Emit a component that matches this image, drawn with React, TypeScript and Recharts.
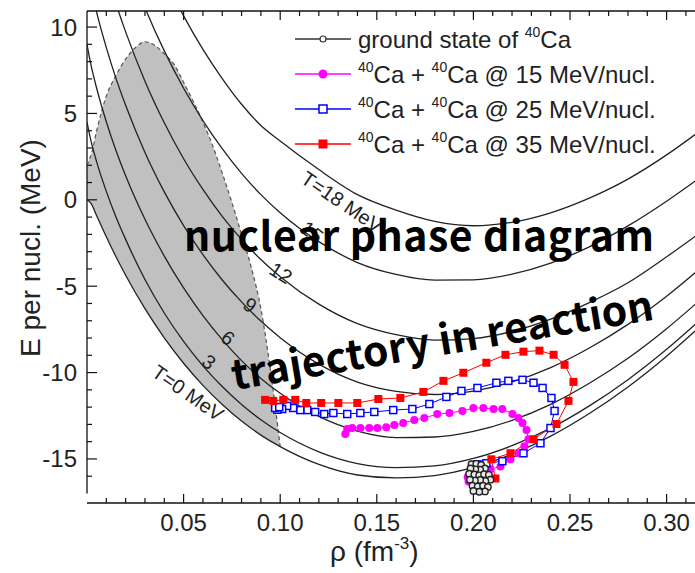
import React from "react";
import { Area, ComposedChart, Line, ReferenceLine, XAxis, YAxis } from "recharts";

// density grid of the isotherms, fm^-3
const RHO = [0, 0.002, 0.005, 0.01, 0.015, 0.02, 0.03, 0.04, 0.05, 0.06, 0.07, 0.08, 0.09, 0.1, 0.12, 0.14, 0.16, 0.18, 0.2, 0.22, 0.24, 0.26, 0.28, 0.3, 0.315];

// E per nucleon (MeV) of each isotherm on RHO
const T0 = [0, -0.19, -0.92, -2.14, -3.3, -4.37, -6.3, -7.99, -9.46, -10.74, -11.85, -12.81, -13.62, -14.29, -15.32, -15.93, -16.1, -15.96, -15.49, -14.72, -13.68, -12.37, -10.83, -9.05, -7.57];
const T3 = [4.5, 3.44, 2.2, 0.49, -0.99, -2.29, -4.61, -6.55, -8.2, -9.61, -10.81, -11.85, -12.73, -13.47, -14.59, -15.27, -15.5, -15.4, -14.97, -14.23, -13.22, -11.93, -10.41, -8.65, -7.19];
const T6 = [9.0, 7.84, 6.46, 4.52, 2.85, 1.39, -1.13, -3.26, -5.1, -6.7, -8.09, -9.31, -10.34, -11.2, -12.54, -13.39, -13.76, -13.73, -13.41, -12.77, -11.84, -10.62, -9.17, -7.46, -6.03];
const T9 = [13.5, 12.3, 10.85, 8.81, 7.03, 5.47, 2.74, 0.46, -1.49, -3.17, -4.64, -5.91, -7.02, -7.98, -9.51, -10.55, -11.09, -11.27, -11.07, -10.54, -9.71, -8.58, -7.21, -5.58, -4.2];
const T12 = [18, 16.78, 15.29, 13.18, 11.35, 9.72, 6.87, 4.46, 2.38, 0.6, -0.96, -2.29, -3.46, -4.45, -6.04, -7.17, -7.81, -8.12, -8.03, -7.62, -6.91, -5.95, -4.8, -3.3, -2.1];
const T15 = [22.5, 21.26, 19.75, 17.6, 15.72, 14.05, 11.12, 8.62, 6.46, 4.59, 2.96, 1.53, 0.3, -0.75, -2.42, -3.63, -4.32, -4.65, -4.63, -4.3, -3.66, -2.72, -1.51, -0.08, 1.1];
const T18 = [27, 25.75, 24.22, 22.04, 20.13, 18.42, 15.43, 12.87, 10.65, 8.71, 7.02, 5.53, 4.3, 3.4, 1.75, 0.3, -0.6, -1.25, -1.5, -1.3, -0.75, 0.1, 1.2, 2.6, 3.8];

// shaded region: lower edge is T=0, upper edge is the dashed boundary
const GRAY_RHO = [0, 0.0025, 0.005, 0.01, 0.015, 0.02, 0.025, 0.03, 0.035, 0.04, 0.045, 0.05, 0.055, 0.06, 0.065, 0.07, 0.075, 0.08, 0.085, 0.09, 0.095, 0.1];
const GRAY_LOW = [0, -0.3, -0.92, -2.14, -3.3, -4.37, -5.36, -6.3, -7.17, -7.99, -8.75, -9.46, -10.12, -10.74, -11.31, -11.85, -12.35, -12.81, -13.23, -13.62, -13.97, -14.29];
const SPINODAL = [2.0, 2.75, 4.0, 6.0, 7.2, 8.15, 8.8, 9.15, 8.95, 8.45, 7.85, 6.8, 5.7, 4.5, 3.15, 1.55, -0.15, -2.0, -3.9, -6.3, -9.9, -14.29];

// ground state of 40Ca
const GS_RHO = [0.199, 0.2015, 0.204, 0.206, 0.2035, 0.201, 0.1985, 0.1978, 0.2005, 0.203, 0.2055, 0.208, 0.2088, 0.2062, 0.2035, 0.2008, 0.1982, 0.1995, 0.2022, 0.205, 0.2075, 0.206, 0.203, 0.2];
const GS_E = [-15.3, -15.28, -15.35, -15.55, -15.62, -15.6, -15.55, -15.85, -15.9, -15.95, -15.88, -15.92, -16.2, -16.28, -16.22, -16.25, -16.2, -16.55, -16.6, -16.55, -16.62, -16.88, -16.9, -16.85];

// 40Ca + 40Ca @ 15 MeV/nucl.
const M_RHO = [0.1975, 0.197, 0.1984, 0.2052, 0.2088, 0.214, 0.2192, 0.2233, 0.2264, 0.2285, 0.2275, 0.2254, 0.2233, 0.2202, 0.215, 0.2104, 0.2052, 0.2, 0.1943, 0.1876, 0.1813, 0.1746, 0.1694, 0.1637, 0.1591, 0.1549, 0.1503, 0.1461, 0.1415, 0.1373, 0.1347, 0.1337];
const M_E = [-16.3, -16.05, -16.01, -15.78, -15.6, -15.43, -15.02, -14.67, -14.26, -13.86, -13.33, -12.92, -12.63, -12.4, -12.11, -12.11, -12.05, -12.05, -12.22, -12.34, -12.4, -12.63, -12.75, -12.92, -13.04, -13.16, -13.21, -13.21, -13.21, -13.21, -13.27, -13.56];

// 40Ca + 40Ca @ 25 MeV/nucl.
const B_RHO = [0.203, 0.2021, 0.2067, 0.215, 0.2259, 0.2347, 0.2399, 0.242, 0.2404, 0.2358, 0.2311, 0.2254, 0.2181, 0.2119, 0.2021, 0.1938, 0.186, 0.1772, 0.1684, 0.1585, 0.1487, 0.1415, 0.1347, 0.1275, 0.1228, 0.1181, 0.114, 0.1104, 0.1067, 0.1036, 0.101, 0.0985, 0.0974, 0.0995];
const B_E = [-15.6, -15.31, -15.25, -15.13, -14.67, -14.09, -13.21, -12.22, -11.47, -10.89, -10.59, -10.42, -10.48, -10.59, -10.89, -11.06, -11.41, -11.82, -12.11, -12.17, -12.28, -12.34, -12.4, -12.34, -12.4, -12.28, -12.17, -12.17, -12.05, -11.93, -12.11, -12.15, -12.05, -12.0];

// 40Ca + 40Ca @ 35 MeV/nucl.
const R_RHO = [0.2114, 0.2093, 0.2192, 0.2311, 0.243, 0.2492, 0.2518, 0.2472, 0.2415, 0.2342, 0.2259, 0.2166, 0.2067, 0.1948, 0.1845, 0.1741, 0.1622, 0.1508, 0.1399, 0.1301, 0.1212, 0.1135, 0.1078, 0.1016, 0.0964, 0.0922];
const R_E = [-16.13, -15.02, -14.67, -13.86, -12.98, -11.64, -10.54, -9.55, -8.97, -8.73, -8.79, -8.97, -9.43, -10.01, -10.48, -11.12, -11.47, -11.53, -11.76, -11.76, -11.76, -11.76, -11.58, -11.58, -11.64, -11.58];

const X_TICKS = [0.01, 0.02, 0.03, 0.04, 0.05, 0.06, 0.07, 0.08, 0.09, 0.1, 0.11, 0.12, 0.13, 0.14, 0.15, 0.16, 0.17, 0.18, 0.19, 0.2, 0.21, 0.22, 0.23, 0.24, 0.25, 0.26, 0.27, 0.28, 0.29, 0.3, 0.31];
const Y_TICKS = [-16, -15, -14, -13, -12, -11, -10, -9, -8, -7, -6, -5, -4, -3, -2, -1, 0, 1, 2, 3, 4, 5, 6, 7, 8, 9, 10];

const X_DOMAIN = [0, 0.3147];
const Y_DOMAIN = [-17.55, 10.93];
const SANS = '"Liberation Sans", Arial, sans-serif';
const CJK = '"Noto Sans CJK SC", sans-serif';

const toPoints = (xs: number[], ys: number[]) => xs.map((r, i) => ({ rho: r, E: ys[i] }));
const isMajorX = (v: number) => Math.abs(v * 20 - Math.round(v * 20)) < 1e-6;

const isotherms = [T0, T3, T6, T9, T12, T15, T18].map((ys) => toPoints(RHO, ys));
const grayData = GRAY_RHO.map((r, i) => ({ rho: r, range: [GRAY_LOW[i], SPINODAL[i]] }));
const spinodalData = toPoints(GRAY_RHO, SPINODAL);

function BottomTick({ x, y, payload }: any) {
  const major = isMajorX(payload.value);
  return (
    <g>
      <line x1={x} x2={x} y1={y} y2={y - (major ? 9 : 5)} stroke="#111" strokeWidth={1.2} />
      {major && (
        <text x={x} y={y + 28} textAnchor="middle" fontSize={24} fill="#222" fontFamily={SANS}>
          {payload.value.toFixed(2)}
        </text>
      )}
    </g>
  );
}

function TopTick({ x, y, payload }: any) {
  const major = isMajorX(payload.value);
  return <line x1={x} x2={x} y1={y} y2={y + (major ? 9 : 5)} stroke="#111" strokeWidth={1.2} />;
}

function LeftTick({ x, y, payload }: any) {
  const major = payload.value % 5 === 0;
  return (
    <g>
      <line x1={x} x2={x + (major ? 10 : 5)} y1={y} y2={y} stroke="#111" strokeWidth={1.2} />
      {major && (
        <text x={x - 10} y={y + 8.5} textAnchor="end" fontSize={24} fill="#222" fontFamily={SANS}>
          {payload.value}
        </text>
      )}
    </g>
  );
}

const filledSquare = (p: any) =>
  p.cx == null ? <g key={p.index} /> : <rect key={p.index} x={p.cx - 4} y={p.cy - 4} width={8} height={8} fill="#ff0000" />;
const openSquare = (p: any) =>
  p.cx == null ? <g key={p.index} /> : <rect key={p.index} x={p.cx - 3.5} y={p.cy - 3.5} width={7} height={7} fill="#fff" stroke="#0000ff" strokeWidth={1.5} />;
const filledCircle = (p: any) =>
  p.cx == null ? <g key={p.index} /> : <circle key={p.index} cx={p.cx} cy={p.cy} r={4} fill="#ff00ff" />;
const gsCircle = (p: any) =>
  p.cx == null ? <g key={p.index} /> : <circle key={p.index} cx={p.cx} cy={p.cy} r={3.2} fill="#e8e8e8" stroke="#222" strokeWidth={1.4} />;

const legendRows = [
  { y: 39, color: "#333", kind: "gs", text: null },
  { y: 74, color: "#ff00ff", kind: "circle", text: "15" },
  { y: 109, color: "#0000ff", kind: "open", text: "25" },
  { y: 144, color: "#ff0000", kind: "square", text: "35" },
];

function Overlay() {
  return (
    <svg width={695} height={573} style={{ position: "absolute", left: 0, top: 0, pointerEvents: "none" }}>
      <text x={40} y={248} transform="rotate(-90 40 248)" textAnchor="middle" fontSize={28} fill="#222" fontFamily={SANS}>
        E per nucl. (MeV)
      </text>
      <text x={330} y={561} fontSize={28} fill="#222" fontFamily={SANS}>
        ρ (fm<tspan fontSize={17} dy={-12}>-3</tspan>
        <tspan dy={12}>)</tspan>
      </text>

      {legendRows.map((row) => (
        <g key={row.y}>
          <line x1={295} x2={351} y1={row.y} y2={row.y} stroke={row.color} strokeWidth={1.3} />
          {row.kind === "gs" && <circle cx={323} cy={row.y} r={3} fill="#fff" stroke="#333" strokeWidth={1.2} />}
          {row.kind === "circle" && <circle cx={323} cy={row.y} r={4.5} fill={row.color} />}
          {row.kind === "open" && <rect x={319} y={row.y - 4} width={8} height={8} fill="#fff" stroke={row.color} strokeWidth={1.5} />}
          {row.kind === "square" && <rect x={318.5} y={row.y - 4.5} width={9} height={9} fill={row.color} />}
          {row.text == null ? (
            <text x={358} y={row.y + 9} fontSize={24} fill="#222" fontFamily={SANS}>
              ground state of <tspan fontSize={14} dy={-11}>40</tspan>
              <tspan dy={11}>Ca</tspan>
            </text>
          ) : (
            <text x={358} y={row.y + 9} fontSize={24} fill="#222" fontFamily={SANS}>
              <tspan fontSize={14} dy={-11}>40</tspan>
              <tspan dy={11}>Ca + </tspan>
              <tspan fontSize={14} dy={-11}>40</tspan>
              <tspan dy={11}>{`Ca @ ${row.text} MeV/nucl.`}</tspan>
            </text>
          )}
        </g>
      ))}

      {[
        { t: "T=18 MeV", x: 342, y: 202, a: 34 },
        { t: "15", x: 312, y: 232, a: 38 },
        { t: "12", x: 281, y: 273, a: 32 },
        { t: "9", x: 250, y: 305, a: 35 },
        { t: "6", x: 228, y: 338, a: 38 },
        { t: "3", x: 209, y: 362, a: 38 },
        { t: "T=0 MeV", x: 188, y: 393, a: 35 },
      ].map((l) => (
        <text
          key={l.t}
          x={l.x}
          y={l.y}
          textAnchor="middle"
          dominantBaseline="central"
          transform={`rotate(${l.a} ${l.x} ${l.y})`}
          fontSize={20}
          fill="#222"
          fontFamily={SANS}
        >
          {l.t}
        </text>
      ))}

      <text x={184} y={251} fontSize={41} fontWeight="bold" fill="#000" fontFamily={CJK} textLength={470} lengthAdjust="spacing">
        nuclear phase diagram
      </text>
      <text
        x={234}
        y={390}
        transform="rotate(-9.5 234 390)"
        fontSize={41}
        fontWeight="bold"
        fill="#000"
        fontFamily={CJK}
        textLength={427}
        lengthAdjust="spacing"
      >
        trajectory in reaction
      </text>
    </svg>
  );
}

export default function App() {
  return (
    <div style={{ position: "absolute", left: 0, top: 0, width: 695, height: 573, background: "#fff" }}>
      <ComposedChart width={695} height={573} margin={{ top: 0, right: 0, bottom: 0, left: 0 }}>
        <XAxis
          dataKey="rho"
          type="number"
          domain={X_DOMAIN}
          allowDataOverflow
          ticks={X_TICKS}
          interval={0}
          height={70}
          tickSize={0}
          tickMargin={0}
          tick={<BottomTick />}
          axisLine={{ stroke: "#111", strokeWidth: 1.3 }}
          tickLine={false}
        />
        <XAxis
          xAxisId="top"
          orientation="top"
          dataKey="rho"
          type="number"
          domain={X_DOMAIN}
          allowDataOverflow
          ticks={X_TICKS}
          interval={0}
          height={11}
          tickSize={0}
          tickMargin={0}
          tick={<TopTick />}
          axisLine={{ stroke: "#111", strokeWidth: 1.3 }}
          tickLine={false}
        />
        <YAxis
          type="number"
          domain={Y_DOMAIN}
          allowDataOverflow
          ticks={Y_TICKS}
          interval={0}
          width={87}
          tickSize={0}
          tickMargin={0}
          tick={<LeftTick />}
          axisLine={false}
          tickLine={false}
        />
        <ReferenceLine
          segment={[{ x: 0, y: -17 }, { x: 0, y: 10.93 }]}
          stroke="#111"
          strokeWidth={1.3}
          ifOverflow="visible"
        />

        <Area
          data={grayData}
          dataKey="range"
          type="monotone"
          fill="#c0c0c0"
          fillOpacity={1}
          stroke="none"
          isAnimationActive={false}
        />
        <Line
          data={spinodalData}
          dataKey="E"
          type="monotone"
          stroke="#555"
          strokeWidth={1.2}
          strokeDasharray="4 3"
          dot={false}
          isAnimationActive={false}
        />
        {isotherms.map((d, i) => (
          <Line
            key={i}
            data={d}
            dataKey="E"
            type="monotone"
            stroke="#222"
            strokeWidth={1.3}
            dot={false}
            isAnimationActive={false}
          />
        ))}

        <Line data={toPoints(M_RHO, M_E)} dataKey="E" type="linear" stroke="#ff00ff" strokeWidth={1} dot={filledCircle} isAnimationActive={false} />
        <Line data={toPoints(B_RHO, B_E)} dataKey="E" type="linear" stroke="#0000ff" strokeWidth={1} dot={openSquare} isAnimationActive={false} />
        <Line data={toPoints(R_RHO, R_E)} dataKey="E" type="linear" stroke="#ff0000" strokeWidth={1} dot={filledSquare} isAnimationActive={false} />
        <Line data={toPoints(GS_RHO, GS_E)} dataKey="E" type="linear" stroke="#333" strokeWidth={1} dot={gsCircle} isAnimationActive={false} />
      </ComposedChart>
      <Overlay />
    </div>
  );
}
